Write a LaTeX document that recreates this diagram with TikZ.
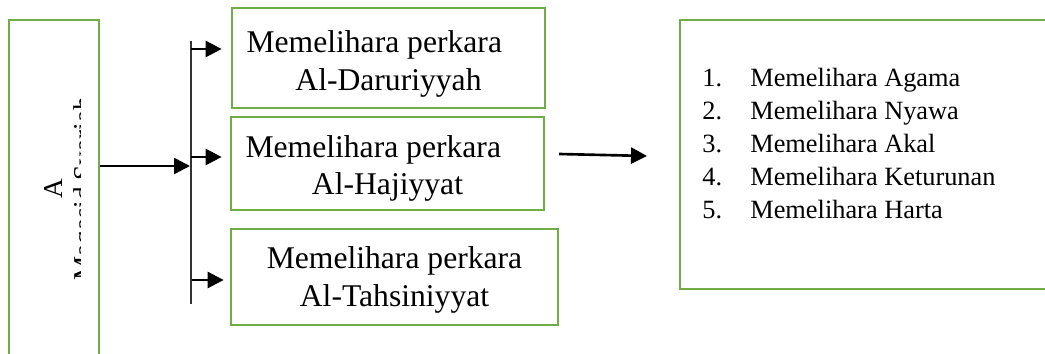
\documentclass[tikz,border=0pt]{standalone}
\usepackage{fontspec}
\setmainfont{Liberation Serif}
\usetikzlibrary{arrows.meta,positioning}
\definecolor{boxgreen}{HTML}{70AD47}
\definecolor{inkblack}{HTML}{000000}

\begin{document}
\begin{tikzpicture}[
  x=0.02cm, y=-0.02cm,
  every node/.style={align=center, inner sep=0pt},
  gbox/.style={draw=boxgreen, line width=1.6pt},
  lvl/.style={gbox, font=\fontsize{18}{21.5}\selectfont},
  vtext/.style={rotate=90, anchor=base, font=\fontsize{15.5}{16}\selectfont},
  item/.style={anchor=base west, font=\fontsize{15}{18.7}\selectfont},
  arr/.style={-{Triangle[length=3.2mm,width=3.2mm]}, line width=1.5pt, color=inkblack},
  bar/.style={line width=0.9pt, color=inkblack!80},
]
  \useasboundingbox (0,0) rectangle (1045,354);

  % left column, cut at the bottom edge
  \node[gbox, minimum width=1.8cm, minimum height=7.2cm] (src) at (54,200) {};
  \begin{scope}
    \clip (11,22) rectangle (80,340);
    \node[vtext] (srca) at (62,189) {A};
    \node[vtext] (srcb) at (92,189) {Maqasid Syariah};
  \end{scope}

  \node[lvl, minimum width=6.26cm, minimum height=2cm] (dar) at (388.5,58)
    {\rule{0pt}{19pt}Memelihara perkara\hspace*{0.9em}\\Al-Daruriyyah};
  \node[lvl, minimum width=6.26cm, minimum height=1.86cm] (haj) at (387.5,163.5)
    {\rule{0pt}{18pt}Memelihara perkara\hspace*{0.9em}\\Al-Hajiyyat};
  \node[lvl, minimum width=6.54cm, minimum height=1.92cm] (tah) at (394.5,277)
    {\rule{0pt}{16pt}Memelihara perkara\\Al-Tahsiniyyat};

  \node[gbox, minimum width=7.6cm, minimum height=5.38cm] (maq) at (870,154.5) {};
  \foreach \i/\t in {1/Agama, 2/Nyawa, 3/Akal, 4/Keturunan, 5/Harta} {
    \node[item] (num\i) at (702,{87+33*(\i-1)}) {\i.};
    \node[item] (txt\i) at (750,{87+33*(\i-1)}) {Memelihara \t};
  }

  \coordinate (fork) at (190,166);
  \coordinate (bartop) at (191,41);
  \coordinate (barbot) at (191,304);
  \coordinate (t1) at (191,49);
  \coordinate (t2) at (191,157);
  \coordinate (t3) at (192,280);
  \coordinate (m1) at (559,154);
  \coordinate (m2) at (647,156);

  \draw[arr] (src.east |- fork) -- (fork);
  \draw[bar] (bartop) -- (barbot);
  \draw[arr, shorten >=1.8mm] (t1) -- (t1 -| dar.west);
  \draw[arr, shorten >=1.6mm] (t2) -- (t2 -| haj.west);
  \draw[arr, shorten >=1.2mm] (t3) -- (t3 -| tah.west);
  \draw[arr] (m1) -- (m2);
\end{tikzpicture}
\end{document}
